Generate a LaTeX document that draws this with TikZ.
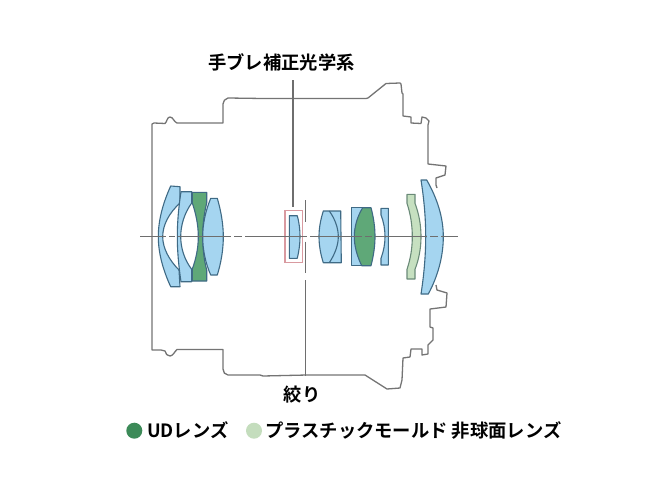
\documentclass[tikz,border=0pt]{standalone}
\usepackage{fontspec}
\newfontfamily\jp{Noto Sans CJK JP Bold}
\definecolor{hous}{HTML}{747474}
\definecolor{axisc}{HTML}{6E6E6E}
\definecolor{blens}{HTML}{A5D5F0}
\definecolor{gl}{HTML}{5FA878}
\definecolor{lgl}{HTML}{C6E0C0}
\definecolor{edgec}{HTML}{3F6A85}
\definecolor{edgeg}{HTML}{6A8A78}
\definecolor{redbox}{HTML}{D99AA0}
\definecolor{dgreen}{HTML}{3C8A58}
\definecolor{lgreen}{HTML}{C4DDBD}
\tikzset{
 lens/.style={fill=blens,draw=edgec,line width=1.1pt,line join=round},
 glens/.style={fill=gl,draw=edgec,line width=1.1pt,line join=round},
 lglens/.style={fill=lgl,draw=edgeg,line width=1.1pt,line join=round},
 housing/.style={draw=hous,line width=1.3pt,line join=round},
 leader/.style={draw=axisc,line width=1.3pt},
 axisline/.style={draw=axisc,line width=1.2pt},
 label/.style={font=\jp\fontsize{18.3}{18.3}\selectfont,text=black,inner sep=0pt},
}
\begin{document}
\begin{tikzpicture}[x=1pt,y=-1pt]
\useasboundingbox (0,0) rectangle (660,495);
\fill[white] (0,0) rectangle (660,495);
% housing
\draw[housing] (437,188) -- (436,185) -- (436,178) -- (445,175) -- (446,166) -- (428,164) -- (428,125) -- (429,121) -- (426,118) -- (422,117) -- (421,123.5) -- (411,123) -- (411,117) -- (403,116) -- (403,94) -- (402,93) -- (401,84) -- (400,83) -- (386,83.5) -- (368,98) -- (366,98.5) -- (263,98.5) -- (228,98) .. controls (225,99) and (223,101) .. (223,104) -- (223,123) -- (177,123) .. controls (174,122) and (173,117) .. (170,117) .. controls (167,117) and (167,122) .. (165,123.5) -- (154,123) -- (152,124) -- (152,350) -- (161,350) -- (165,351) .. controls (166,354) and (167,356) .. (170,356) .. controls (173,356) and (175,351) .. (177,349.5) -- (223,349.5) -- (223,369) .. controls (223,372) and (225,375) .. (228,375) -- (260,375) -- (263,376) -- (307,375) -- (365,375) -- (387,389) -- (400,388) -- (402,380) -- (403,358) -- (410,357) -- (411,349) -- (422,349) -- (422,355) -- (428,354) -- (428,345) -- (433,340) -- (433,328) -- (430,327) -- (430,309) -- (446,307) -- (447,293) -- (437,290) -- (436,285);
% lenses
\draw[lens] (170.7,186) -- (180,186.7) -- (180,203) .. controls (169,213) and (162.7,225) .. (162.7,236.7) .. controls (162.7,248) and (169,260) .. (179,270) -- (180,286.7) -- (170.7,286.7) .. controls (163,270) and (158.3,253) .. (158.3,236.7) .. controls (158.3,220) and (163,203) .. (170.7,186) -- cycle;
\draw[lens] (181,191.7) -- (191.7,191.7) -- (191.7,203) .. controls (184.5,213) and (180.7,225) .. (180.7,236.7) .. controls (180.7,248) and (184.5,260) .. (191.7,269.3) -- (191.7,281.7) -- (181,281.7) .. controls (178.5,265) and (177.3,250) .. (177.3,236.7) .. controls (177.3,223) and (178.5,208) .. (181,191.7) -- cycle;
\draw[glens] (192.3,192.3) -- (206.7,192.3) -- (206.7,203) .. controls (204,214) and (202.7,225) .. (202.7,236.7) .. controls (202.7,248) and (204,260) .. (206.7,270) -- (206.7,281) -- (192.3,281) -- (192.3,269) .. controls (196,259) and (198.3,248) .. (198.3,236.7) .. controls (198.3,225) and (196,214) .. (192.3,203) -- cycle;
\draw[lens] (210.7,198.3) -- (217.3,198.3) .. controls (221,211) and (223.3,224) .. (223.3,236.7) .. controls (223.3,250) and (221,263) .. (217.3,275) -- (210.7,275) .. controls (205.5,263) and (202.7,250) .. (202.7,236.7) .. controls (202.7,224) and (205.5,211) .. (210.7,198.3) -- cycle;
% stabiliser
\draw[redbox,line width=1.2pt] (285,210.7) rectangle (302.3,262.7);
\draw[lens] (289.3,215.7) -- (297.3,215.7) .. controls (299,222) and (300,229) .. (300,236.7) .. controls (300,244) and (299,251) .. (297.3,258.3) -- (289.3,258.3) -- cycle;
% L6
\draw[lens] (323.3,211) -- (340.7,211) -- (341.3,262.7) -- (323.3,262.7) .. controls (320.5,254) and (319,245) .. (319,236.7) .. controls (319,228) and (320.5,220) .. (323.3,211) -- cycle;
\draw[edgec,line width=1.1pt] (329.3,211) .. controls (335,219) and (338.3,228) .. (338.3,236.7) .. controls (338.3,245) and (335,254) .. (329.3,262.7);
% L7
\draw[lens] (351.7,207.7) -- (363,207.7) -- (363,265.7) -- (351.7,265.7) -- cycle;
\draw[glens] (362.7,207.7) -- (371,207.7) .. controls (373.5,217) and (375,227) .. (375,236.7) .. controls (375,246) and (373.5,256) .. (371,265.7) -- (361.7,265.7) .. controls (357,256) and (354.3,246) .. (354.3,236.7) .. controls (354.3,227) and (357,217) .. (362.7,207.7) -- cycle;
% L8
\draw[lens] (381,208.3) -- (388.3,208.3) -- (388.3,265) -- (381,265) -- (381,258.3) .. controls (383.7,251) and (385,244) .. (385,236.7) .. controls (385,229) and (383.7,222) .. (381,215) -- cycle;
% L9
\draw[lglens] (407,194.3) -- (415,194.3) -- (415,203.3) .. controls (419,214) and (421,225) .. (421,236.7) .. controls (421,248) and (419,259) .. (415,269.3) -- (415,279) -- (407,279) -- (407,269.3) .. controls (410.5,259) and (412.3,248) .. (412.3,236.7) .. controls (412.3,225) and (410.5,214) .. (407,203.3) -- cycle;
% L10
\draw[lens] (421,180) -- (426.7,180) .. controls (437,198) and (443.3,217) .. (443.3,236.7) .. controls (443.3,256) and (438,276) .. (428.3,294) -- (421,294) .. controls (424,275) and (425.7,255) .. (425.7,236.7) .. controls (425.7,218) and (424,199) .. (421,180) -- cycle;
% axis, broken as in the reference
\foreach \a/\b in {140/165.7,169.3/175,177.7/231,234/241.7,245/306.7,310/362,365/371.7,375/427,430/438,441/457.5}
  \draw[axisline] (\a,236.7) -- (\b,236.7);
% leaders
\coordinate (ist) at (293,80);
\coordinate (isb) at (293,207);
\draw[leader] (ist) -- (isb);
\coordinate (sa) at (305.7,200);
\coordinate (sb) at (305.7,221.7);
\coordinate (sc) at (305.7,241.7);
\coordinate (sd) at (305.7,273.3);
\coordinate (se) at (305.7,280);
\coordinate (sf) at (305.7,376);
\draw[leader] (sa) -- (sb);
\draw[leader] (sc) -- (sd);
\draw[leader] (se) -- (sf);
% labels
\node[label] (title) at (281.5,62) {手ブレ補正光学系};
\node[label] (stop) at (302,395) {絞り};
\fill[dgreen] (134.3,430.7) circle (8);
\fill[lgreen] (254,430.7) circle (8);
\node[label,anchor=west] (ud) at (147,430) {UDレンズ};
\node[label,anchor=west] (pl) at (265,430) {プラスチックモールド 非球面レンズ};
\end{tikzpicture}
\end{document}
